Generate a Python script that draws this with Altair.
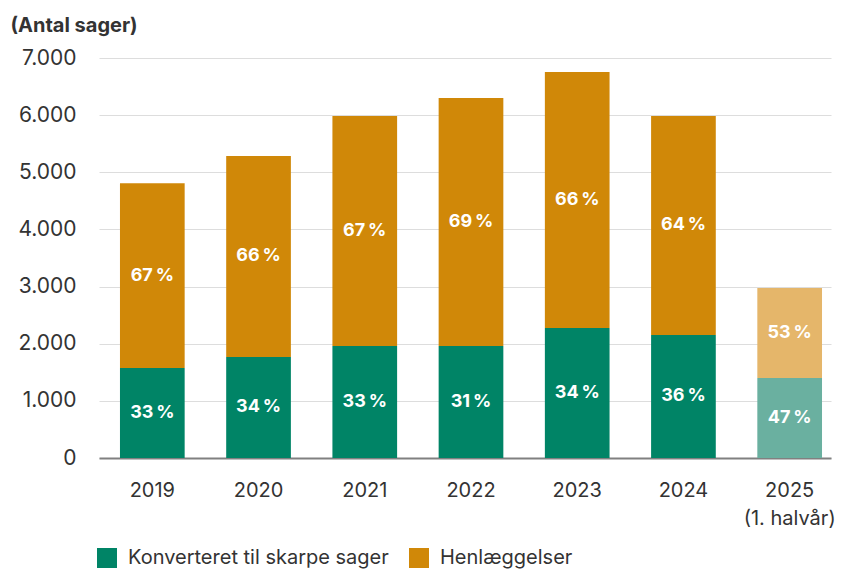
import altair as alt
import pandas as pd

years = ["2019", "2020", "2021", "2022", "2023", "2024", "2025"]
konverteret = [1575, 1768, 1960, 1960, 2275, 2153, 1400]
henlaeggelser = [3235, 3517, 4025, 4340, 4480, 3832, 1575]
pct_konverteret = [33, 34, 33, 31, 34, 36, 47]
pct_henlaeggelser = [67, 66, 67, 69, 66, 64, 53]
partial_year = "2025"

series_names = ["Konverteret til skarpe sager", "Henlæggelser"]
partial_names = ["Konverteret til skarpe sager (1. halvår)", "Henlæggelser (1. halvår)"]
colors = ["#008466", "#D08808", "#6AB0A0", "#E5B66A"]

rows = []
for i, y in enumerate(years):
    for s, (vals, pcts) in enumerate([(konverteret, pct_konverteret), (henlaeggelser, pct_henlaeggelser)]):
        key = partial_names[s] if y == partial_year else series_names[s]
        rows.append({
            "year": y,
            "series": series_names[s],
            "key": key,
            "order": s,
            "value": vals[i],
            "label": f"{pcts[i]}\u2009%",
        })
df = pd.DataFrame(rows)

FONT = "Inter"

base = alt.Chart(df).transform_stack(
    stack="value", groupby=["year"], as_=["v0", "v1"],
    sort=[alt.SortField("order", order="ascending")],
).transform_calculate(mid="(datum.v0 + datum.v1) / 2")

x_enc = alt.X(
    "year:N",
    title=None,
    sort=years,
    scale=alt.Scale(paddingInner=0.391, paddingOuter=0.141, align=0.7),
    axis=alt.Axis(
        labelAngle=0,
        labelFontSize=20,
        labelFont=FONT,
        labelColor="#333333",
        labelPadding=22,
        labelLineHeight=28,
        labelExpr="datum.value == '2025' ? ['2025', '(1. halvår)'] : datum.value",
        ticks=False,
        domain=True,
        domainColor="#808080",
        domainWidth=2,
        grid=False,
    ),
)

bars = base.mark_bar().encode(
    x=x_enc,
    y=alt.Y(
        "v0:Q",
        scale=alt.Scale(domain=[0, 7000], nice=False),
        axis=alt.Axis(
            values=[0, 1000, 2000, 3000, 4000, 5000, 6000, 7000],
            labelExpr="replace(format(datum.value, ',d'), ',', '.')",
            labelFontSize=21,
            labelFont=FONT,
            labelColor="#333333",
            labelPadding=23,
            ticks=False,
            domain=False,
            gridColor="#DDDDDD",
            gridWidth=1,
            title="(Antal sager)",
            titleAngle=0,
            titleAlign="left",
            titleBaseline="middle",
            titleX=-89,
            titleY=-33,
            titleFont=FONT,
            titleFontSize=20,
            titleFontWeight="bold",
            titleColor="#333333",
        ),
    ),
    y2="v1:Q",
    color=alt.Color(
        "key:N",
        scale=alt.Scale(domain=series_names + partial_names, range=colors),
        legend=alt.Legend(
            values=series_names,
            title=None,
            orient="none",
            direction="horizontal",
            legendX=-2,
            legendY=490,
            symbolType="square",
            symbolSize=400,
            symbolStrokeWidth=0,
            symbolOpacity=1,
            labelFont=FONT,
            labelFontSize=20,
            labelColor="#333333",
            labelOffset=11,
            columnPadding=20,
            labelLimit=400,
        ),
    ),
    order=alt.Order("order:Q"),
)

labels = base.mark_text(
    color="white", font=FONT, fontSize=18, fontWeight="bold", baseline="middle"
).encode(
    x=alt.X("year:N", sort=years),
    y=alt.Y("mid:Q"),
    text="label:N",
)

chart = alt.layer(bars, labels).properties(
    width=732,
    height=400,
    autosize=alt.AutoSizeParams(type="none"),
    padding={"left": 91, "top": 50, "right": 4, "bottom": 111},
).configure_view(stroke=None)

chart.save("out.html", embed_options={"renderer": "svg", "actions": False})
